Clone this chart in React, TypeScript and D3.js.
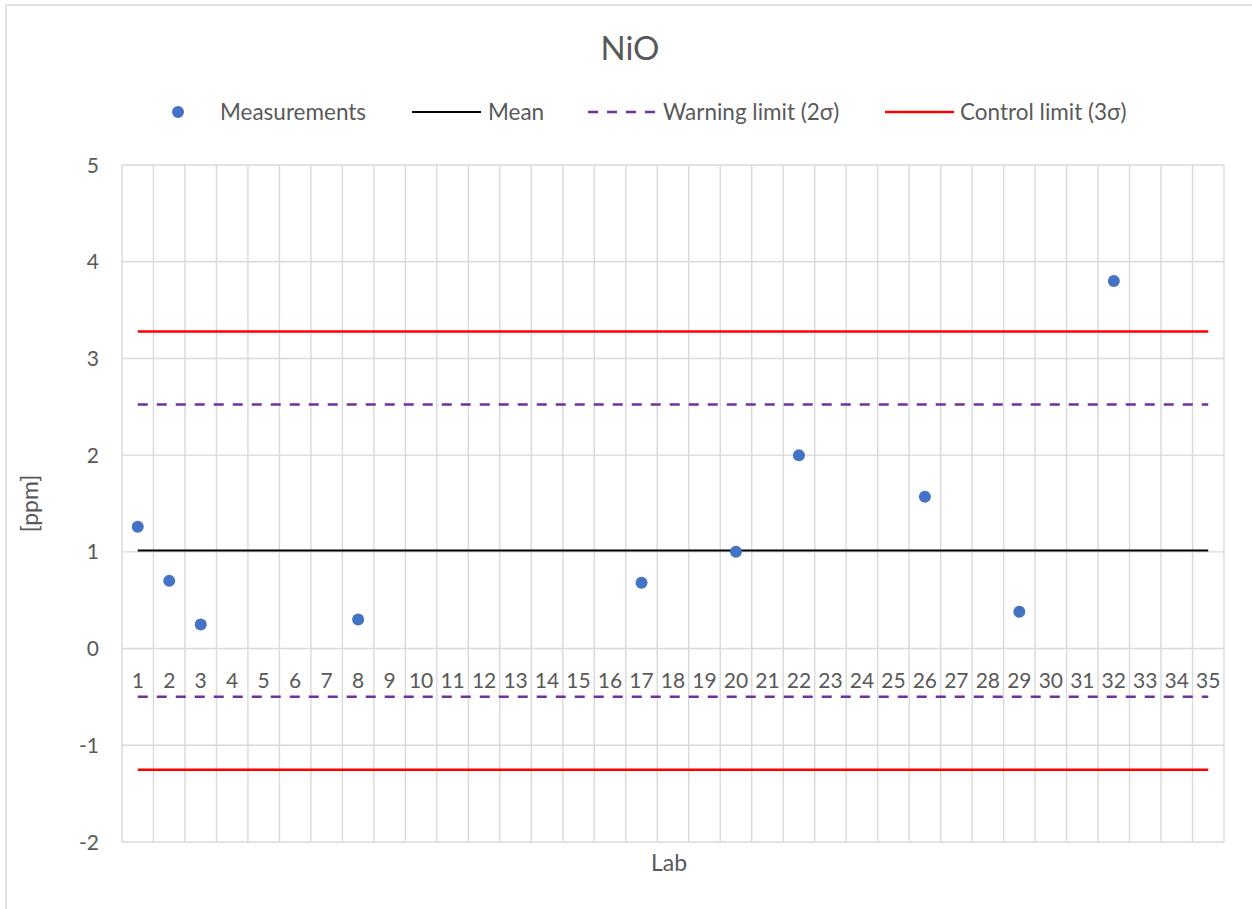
import React from "react";
import * as d3 from "d3";

const labs: number[] = Array.from({ length: 35 }, (_, i) => i + 1);
const measuredLabs = [1, 2, 3, 8, 17, 20, 22, 26, 29, 32];
const measuredValues = [1.26, 0.7, 0.25, 0.3, 0.68, 1.0, 2.0, 1.57, 0.38, 3.8];
const meanValue = 1.013;
const warningLimits = [2.523, -0.497];
const controlLimits = [3.278, -1.252];
const yTicks = [5, 4, 3, 2, 1, 0, -1, -2];

const W = 1252;
const H = 909;
const FONT = "Lato, 'Open Sans', sans-serif";
const TXT = "#595959";
const GRID = "#d9d9d9";

export default function App() {
  const left = 122, right = 1224, top = 165, bottom = 842;
  const x = d3.scaleBand<number>().domain(labs).range([left, right]).padding(0);
  const y = d3.scaleLinear().domain([-2, 5]).range([bottom, top]);
  const cx = (l: number) => (x(l) as number) + x.bandwidth() / 2;
  const x0 = cx(labs[0]);
  const x1 = cx(labs[labs.length - 1]);
  const hline = (v: number) => d3.line<[number, number]>()([[x0, y(v)], [x1, y(v)]]) as string;

  return (
    <svg width={W} height={H} style={{ position: "absolute", left: 0, top: 0, background: "#fff" }}>
      <rect x={6} y={5} width={1400} height={1000} fill="#fff" stroke={GRID} strokeWidth={1.5} />
      <text x={W / 2 + 4} y={60} textAnchor="middle" fontFamily={FONT} fontSize={33} fill={TXT}>NiO</text>

      {/* legend */}
      <g fontFamily={FONT} fontSize={22.5} fill={TXT}>
        <circle cx={178} cy={112} r={6} fill="#4472C4" />
        <text x={220} y={120}>Measurements</text>
        <line x1={412} x2={481} y1={112} y2={112} stroke="#000" strokeWidth={2} />
        <text x={488} y={120}>Mean</text>
        <line x1={588} x2={656} y1={112} y2={112} stroke="#7030A0" strokeWidth={2.5} strokeDasharray="10,9" />
        <text x={663} y={120}>Warning limit (2σ)</text>
        <line x1={885} x2={954} y1={112} y2={112} stroke="#FF0000" strokeWidth={2.5} />
        <text x={960} y={120}>Control limit (3σ)</text>
      </g>

      {/* grid */}
      <g stroke={GRID} strokeWidth={1.4}>
        {yTicks.map((t) => (
          <line key={"h" + t} x1={left} x2={right} y1={y(t)} y2={y(t)} />
        ))}
        {labs.map((l) => (
          <line key={"v" + l} x1={x(l) as number} x2={x(l) as number} y1={top} y2={bottom} />
        ))}
        <line x1={right} x2={right} y1={top} y2={bottom} />
      </g>

      {/* y tick labels */}
      <g fontFamily={FONT} fontSize={21} fill={TXT}>
        {yTicks.map((t) => (
          <text key={"yt" + t} x={99} y={y(t) + 7.5} textAnchor="end">{t}</text>
        ))}
      </g>

      {/* category labels */}
      <g fontFamily={FONT} fontSize={21} fill={TXT}>
        {labs.map((l) => (
          <text key={"c" + l} x={cx(l)} y={y(0) + 39.5} textAnchor="middle">{l}</text>
        ))}
      </g>

      {/* limit lines */}
      <path d={hline(meanValue)} stroke="#000" strokeWidth={2} fill="none" />
      {warningLimits.map((v, i) => (
        <path key={"w" + i} d={hline(v)} stroke="#7030A0" strokeWidth={2.5} strokeDasharray="10,9" fill="none" />
      ))}
      {controlLimits.map((v, i) => (
        <path key={"c" + i} d={hline(v)} stroke="#FF0000" strokeWidth={2.5} fill="none" />
      ))}

      {/* points */}
      {measuredLabs.map((l, i) => (
        <circle key={"p" + l} cx={cx(l)} cy={y(measuredValues[i])} r={6} fill="#4472C4" />
      ))}

      {/* axis titles */}
      <text x={669} y={871} textAnchor="middle" fontFamily={FONT} fontSize={23} fill={TXT}>Lab</text>
      <text transform={`translate(38,${(top + bottom) / 2}) rotate(-90)`} textAnchor="middle" fontFamily={FONT} fontSize={23} fill={TXT}>[ppm]</text>
    </svg>
  );
}
